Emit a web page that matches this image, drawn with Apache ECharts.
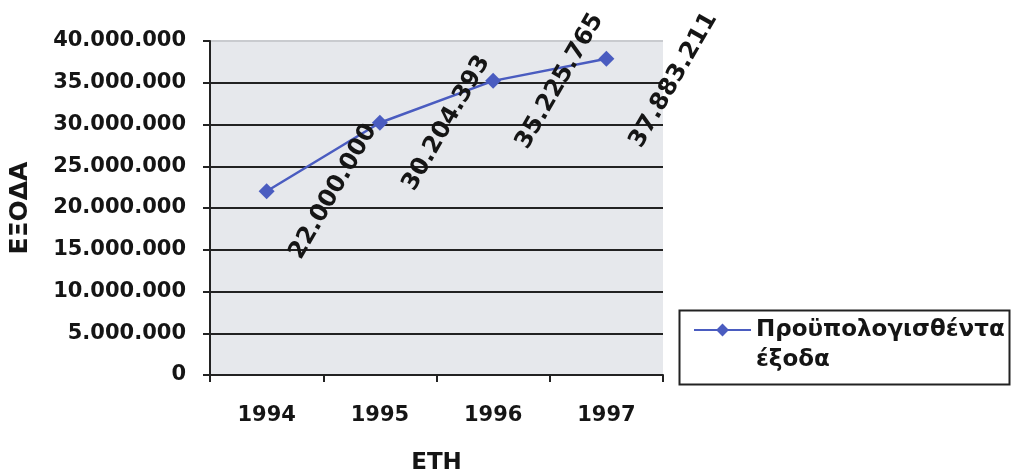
<!DOCTYPE html>
<html>
<head>
<meta charset="utf-8">
<script src="https://cdn.jsdelivr.net/npm/echarts@6/dist/echarts.min.js"></script>
<style>
  html, body { margin: 0; padding: 0; background: #fff; }
  #chart { width: 1011px; height: 472px; }
</style>
</head>
<body>
<div id="chart"></div>
<script>
// δεδομένα
const years = ['1994', '1995', '1996', '1997'];
const expenses = [22000000, 30204393, 35225765, 37883211];
const seriesName = 'Προϋπολογισθέντα\nέξοδα';
// label shift (local, rotated frame) per point; last one is pushed down in the original
const labelShift = [[33, 58], [33, 58], [33, 58], [15, 69]];

const FONT = 'DejaVu Sans';
const INK = '#151515';
const dots = v => String(v).replace(/\B(?=(\d{3})+(?!\d))/g, '.');

const chart = echarts.init(document.getElementById('chart'));

chart.setOption({
  animation: false,
  backgroundColor: '#fff',
  textStyle: { fontFamily: FONT },
  grid: {
    left: 210, right: 348, top: 41, bottom: 97,
    outerBoundsMode: 'none',
    containLabel: false,
    show: true, backgroundColor: '#e6e8ec', borderWidth: 0
  },
  legend: {
    left: 693, top: 285, padding: 0,
    itemWidth: 57, itemHeight: 16,
    formatter: name => ' \n' + name,
    textStyle: {
      fontFamily: FONT, fontWeight: 'bold', fontSize: 23, color: INK,
      lineHeight: 30
    },
    data: [seriesName]
  },
  graphic: [{
    type: 'rect', left: 677, top: 308,
    shape: { width: 330, height: 74 },
    style: { fill: 'none', stroke: '#222', lineWidth: 2 }
  }],
  xAxis: {
    type: 'category',
    data: years,
    boundaryGap: true,
    name: 'ΕΤΗ',
    nameLocation: 'middle',
    nameGap: 77,
    nameTextStyle: { fontFamily: FONT, fontWeight: 'bold', fontSize: 23, color: INK },
    axisLine: { lineStyle: { color: '#222', width: 2 } },
    axisTick: { show: true, length: 7, interval: 0, lineStyle: { color: '#222', width: 2 } },
    axisLabel: { margin: 30, fontFamily: FONT, fontWeight: 'bold', fontSize: 21, color: INK },
    splitLine: { show: false }
  },
  yAxis: {
    type: 'value',
    min: 0, max: 40000000, interval: 5000000,
    name: 'ΕΞΟΔΑ',
    nameLocation: 'middle',
    nameGap: 177,
    nameTextStyle: { fontFamily: FONT, fontWeight: 'bold', fontSize: 25, color: INK },
    axisLine: { show: true, lineStyle: { color: '#222', width: 2 } },
    axisTick: { show: true, length: 7, lineStyle: { color: '#222', width: 2 } },
    axisLabel: {
      margin: 24, fontFamily: FONT, fontWeight: 'bold', fontSize: 21, color: INK,
      formatter: v => dots(v)
    },
    splitLine: {
      lineStyle: {
        width: 2,
        color: ['#222', '#222', '#222', '#222', '#222', '#222', '#222', '#222', '#c9cbcf']
      }
    }
  },
  series: [{
    name: seriesName,
    type: 'line',
    data: expenses.map((v, i) => ({
      value: v,
      label: { offset: labelShift[i] }
    })),
    symbol: 'diamond',
    symbolSize: [16, 16],
    lineStyle: { color: '#4a5cc0', width: 2.5 },
    itemStyle: { color: '#4a5cc0' },
    label: {
      show: true,
      position: 'inside',
      rotate: 60,
      fontFamily: FONT, fontWeight: 'bold', fontSize: 24, color: INK,
      formatter: p => dots(p.value)
    }
  }]
});
</script>
</body>
</html>
